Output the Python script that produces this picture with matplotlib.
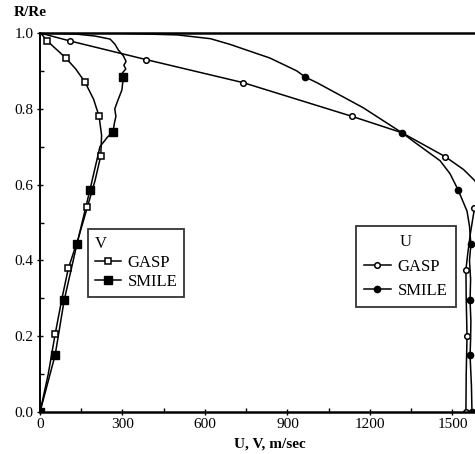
#!/usr/bin/env python3
"""Radial profiles of U and V velocity, GASP vs SMILE."""

import matplotlib

matplotlib.use("Agg")
import matplotlib.pyplot as plt
from matplotlib.lines import Line2D

plt.rcParams["font.family"] = ["Liberation Serif", "DejaVu Serif"]

# V component, GASP (open squares)
v_gasp_vel = [0, 30, 55, 80, 103, 140, 172, 200, 221, 224, 215, 195, 164, 130, 94, 55, 25, 8, 0]
v_gasp_r = [0.0, 0.10, 0.205, 0.30, 0.379, 0.46, 0.54, 0.61, 0.676, 0.73, 0.78, 0.825,
            0.87, 0.905, 0.934, 0.96, 0.98, 0.995, 1.0]
v_gasp_mk_vel = [0, 55, 103, 172, 221, 215, 164, 94, 25]
v_gasp_mk_r = [0.0, 0.205, 0.379, 0.54, 0.676, 0.78, 0.87, 0.934, 0.98]

# V component, SMILE (filled squares)
v_smile_vel = [0, 55, 88, 134, 182, 218, 245, 266, 270, 276, 272, 282, 298, 303, 300,
               312, 305, 313, 303, 285, 273, 255, 200, 134, 10]
v_smile_r = [0.0, 0.15, 0.295, 0.442, 0.587, 0.70, 0.725, 0.74, 0.76, 0.78, 0.80, 0.82,
             0.85, 0.884, 0.895, 0.905, 0.915, 0.925, 0.94, 0.955, 0.97, 0.984, 0.992, 0.997, 1.0]
v_smile_mk_vel = [0, 55, 88, 134, 182, 266, 303]
v_smile_mk_r = [0.0, 0.15, 0.295, 0.442, 0.587, 0.74, 0.884]

# U component, GASP (open circles)
u_gasp_vel = [0, 109, 385, 739, 1135, 1316, 1473, 1540, 1582, 1600, 1598, 1580, 1565,
              1556, 1549, 1550, 1553, 1550, 1549]
u_gasp_r = [1.0, 0.979, 0.93, 0.869, 0.78, 0.737, 0.674, 0.64, 0.61, 0.58, 0.56, 0.537,
            0.47, 0.42, 0.376, 0.30, 0.20, 0.10, 0.0]
u_gasp_mk_vel = [109, 385, 739, 1135, 1473, 1580, 1549, 1553, 1549]
u_gasp_mk_r = [0.979, 0.93, 0.869, 0.78, 0.674, 0.537, 0.376, 0.20, 0.0]

# U component, SMILE (filled circles)
u_smile_vel = [0, 300, 500, 620, 691, 836, 934, 964, 1007, 1175, 1316, 1364, 1455, 1491,
               1520, 1553, 1562, 1567, 1562, 1566, 1564, 1567, 1566, 1564, 1569, 1571]
u_smile_r = [1.0, 0.999, 0.995, 0.985, 0.97, 0.934, 0.90, 0.884, 0.869, 0.803, 0.737,
             0.711, 0.663, 0.629, 0.587, 0.53, 0.49, 0.442, 0.40, 0.35, 0.295, 0.24,
             0.19, 0.15, 0.07, 0.0]
u_smile_mk_vel = [1571, 1564, 1564, 1567, 1520, 1316, 964]
u_smile_mk_r = [0.0, 0.15, 0.295, 0.442, 0.587, 0.737, 0.884]

x_ticks = [0, 300, 600, 900, 1200, 1500]
y_ticks = [0.0, 0.2, 0.4, 0.6, 0.8, 1.0]


def main() -> None:
    fig = plt.figure(figsize=(4.75, 4.54), dpi=100)
    ax = fig.add_axes([0.0842, 0.0925, 0.9158, 0.8348])

    lw = 1.1
    ax.plot(v_gasp_vel, v_gasp_r, color="black", lw=lw)
    ax.plot(v_smile_vel, v_smile_r, color="black", lw=lw)
    ax.plot(u_gasp_vel, u_gasp_r, color="black", lw=lw)
    ax.plot(u_smile_vel, u_smile_r, color="black", lw=lw)

    ax.plot(v_gasp_mk_vel, v_gasp_mk_r, ls="none", marker="s", ms=5, mfc="white",
            mec="black", mew=1.1)
    ax.plot(v_smile_mk_vel, v_smile_mk_r, ls="none", marker="s", ms=5.5, color="black")
    ax.plot(u_gasp_mk_vel, u_gasp_mk_r, ls="none", marker="o", ms=4, mfc="white",
            mec="black", mew=1.1)
    ax.plot(u_smile_mk_vel, u_smile_mk_r, ls="none", marker="o", ms=4.5, color="black")

    ax.set_xlim(0, 1582)
    ax.set_ylim(0, 1.0)
    ax.set_xticks(x_ticks)
    ax.set_xticks([150, 450, 750, 1050, 1350], minor=True)
    ax.set_yticks(y_ticks)
    ax.set_yticklabels([f"{t:.1f}" for t in y_ticks])
    ax.set_yticks([0.1, 0.3, 0.5, 0.7, 0.9], minor=True)
    ax.tick_params(direction="inout", length=5, width=1, labelsize=11, pad=2)
    ax.tick_params(which="minor", direction="in", length=3, width=1)
    ax.spines["right"].set_visible(False)
    ax.spines["top"].set_linewidth(1.8)
    ax.spines["bottom"].set_linewidth(1.8)
    ax.spines["left"].set_linewidth(1.4)

    fig.text(0.028, 0.973, "R/Re", fontsize=11, fontweight="bold", ha="left", va="center")
    fig.text(0.568, 0.022, "U, V, m/sec", fontsize=11, fontweight="bold", ha="center",
             va="center")

    v_handles = [
        Line2D([], [], color="black", lw=lw, marker="s", ms=5, mfc="white", mew=1.1),
        Line2D([], [], color="black", lw=lw, marker="s", ms=5.5),
    ]
    leg_v = ax.legend(v_handles, ["GASP", "SMILE"], title="V", loc="upper left",
                      bbox_to_anchor=(0.11, 0.483), borderaxespad=0, frameon=True,
                      fancybox=False, edgecolor="black", fontsize=12, title_fontsize=12,
                      handlelength=1.6, handletextpad=0.4, borderpad=0.4,
                      labelspacing=0.2, alignment="left")
    leg_v.get_frame().set_linewidth(1.3)
    ax.add_artist(leg_v)

    u_handles = [
        Line2D([], [], color="black", lw=lw, marker="o", ms=4, mfc="white", mew=1.1),
        Line2D([], [], color="black", lw=lw, marker="o", ms=4.5),
    ]
    leg_u = ax.legend(u_handles, ["GASP", "SMILE"], title="U", loc="upper left",
                      bbox_to_anchor=(0.726, 0.491), borderaxespad=0, frameon=True,
                      fancybox=False, edgecolor="black", fontsize=12, title_fontsize=12,
                      handlelength=1.6, handletextpad=0.4, borderpad=0.5,
                      labelspacing=0.5, alignment="center")
    leg_u.get_frame().set_linewidth(1.3)

    fig.savefig("out.png", dpi=100)
    plt.close(fig)


if __name__ == "__main__":
    main()
